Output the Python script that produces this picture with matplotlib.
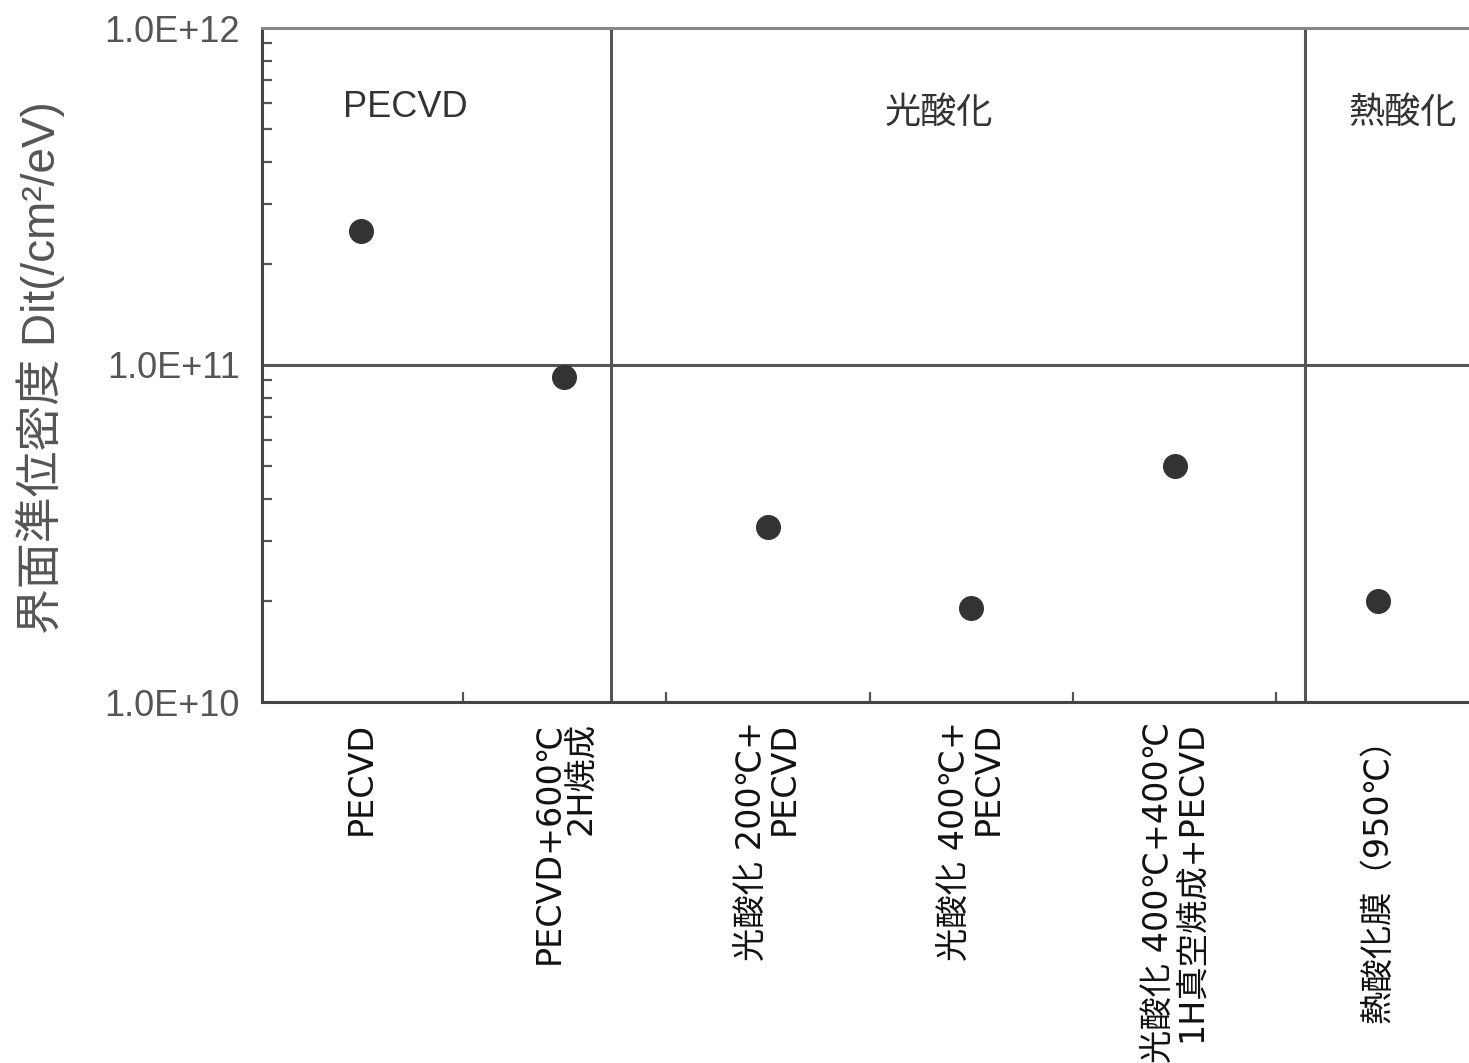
import matplotlib
matplotlib.use("Agg")
import matplotlib.pyplot as plt
from matplotlib.ticker import FixedLocator, LogLocator, NullFormatter

FONT = ["Liberation Sans", "Noto Sans CJK JP", "DejaVu Sans"]
WIDE_FONT = ["DejaVu Sans", "Noto Sans CJK JP"]
plt.rcParams["font.family"] = FONT

# Sample conditions and measured interface state density
categories = [
    "PECVD",
    "PECVD+600℃\n2H焼成",
    "光酸化 200℃+\nPECVD",
    "光酸化 400℃+\nPECVD",
    "光酸化 400℃+400℃\n1H真空焼成+PECVD",
    "熱酸化膜（950℃）",
]
dit_values = [2.5e11, 9.2e10, 3.3e10, 1.9e10, 5.0e10, 2.0e10]

# Process groups: title, centre position, height, right boundary
group_titles = ["PECVD", "光酸化", "熱酸化"]
group_centres = [0.72, 3.34, 5.62]
group_title_y = [5.8e11, 5.6e11, 5.6e11]
group_bounds = [1.729, 5.14]

y_ticks = [1e10, 1e11, 1e12]
y_tick_labels = ["1.0E+10", "1.0E+11", "1.0E+12"]

fig = plt.figure(figsize=(14.69, 10.63), dpi=100)
ax = fig.add_axes([262 / 1469, 1 - 702 / 1063, 1207 / 1469, 674 / 1063])

x = [i + 0.5 for i in range(len(categories))]
ax.plot(x, dit_values, "o", color="#333333", markersize=17, zorder=5)

ax.set_yscale("log")
ax.set_ylim(1e10, 1e12)
ax.set_xlim(0.013, 5.947)

# Group separators and decade line
for b in group_bounds:
    ax.axvline(b, color="#555555", lw=2.2, zorder=2)
ax.axhline(1e11, color="#555555", lw=2.2, zorder=2)

for t, cx, cy in zip(group_titles, group_centres, group_title_y):
    ax.text(cx, cy, t, ha="center", va="center", fontsize=26,
            color="#333333", family=FONT)

# Y axis
ax.yaxis.set_major_locator(FixedLocator(y_ticks))
ax.set_yticklabels(y_tick_labels, fontsize=26, color="#555555")
ax.yaxis.set_minor_locator(LogLocator(base=10, subs=range(2, 10)))
ax.yaxis.set_minor_formatter(NullFormatter())
ax.tick_params(axis="y", which="major", length=0, pad=16)
ax.tick_params(axis="y", which="minor", direction="in", length=7, width=1.6,
               color="#555555")

# X axis: category labels at centres, small inner ticks at boundaries
ax.set_xticks(x)
ax.set_xticklabels(categories, rotation=90, fontsize=24, color="#111111",
                   ha="center", va="top", multialignment="right",
                   linespacing=1.0, family=WIDE_FONT)
ax.set_xticks(range(1, len(categories)), minor=True)
ax.tick_params(axis="x", which="major", length=0, pad=14)
ax.tick_params(axis="x", which="minor", direction="in", length=7, width=1.6,
               color="#555555")

for side in ("left", "bottom"):
    ax.spines[side].set_color("#444444")
    ax.spines[side].set_linewidth(2.2)
ax.spines["top"].set_color("#888888")
ax.spines["top"].set_linewidth(2.2)
ax.spines["right"].set_visible(False)

fig.text(40 / 1469, 1 - 368 / 1063, "界面準位密度 Dit(/cm²/eV)",
         rotation=90, ha="center", va="center", fontsize=33, color="#555555",
         family=FONT)

fig.savefig("out.png", dpi=100, facecolor="white")
